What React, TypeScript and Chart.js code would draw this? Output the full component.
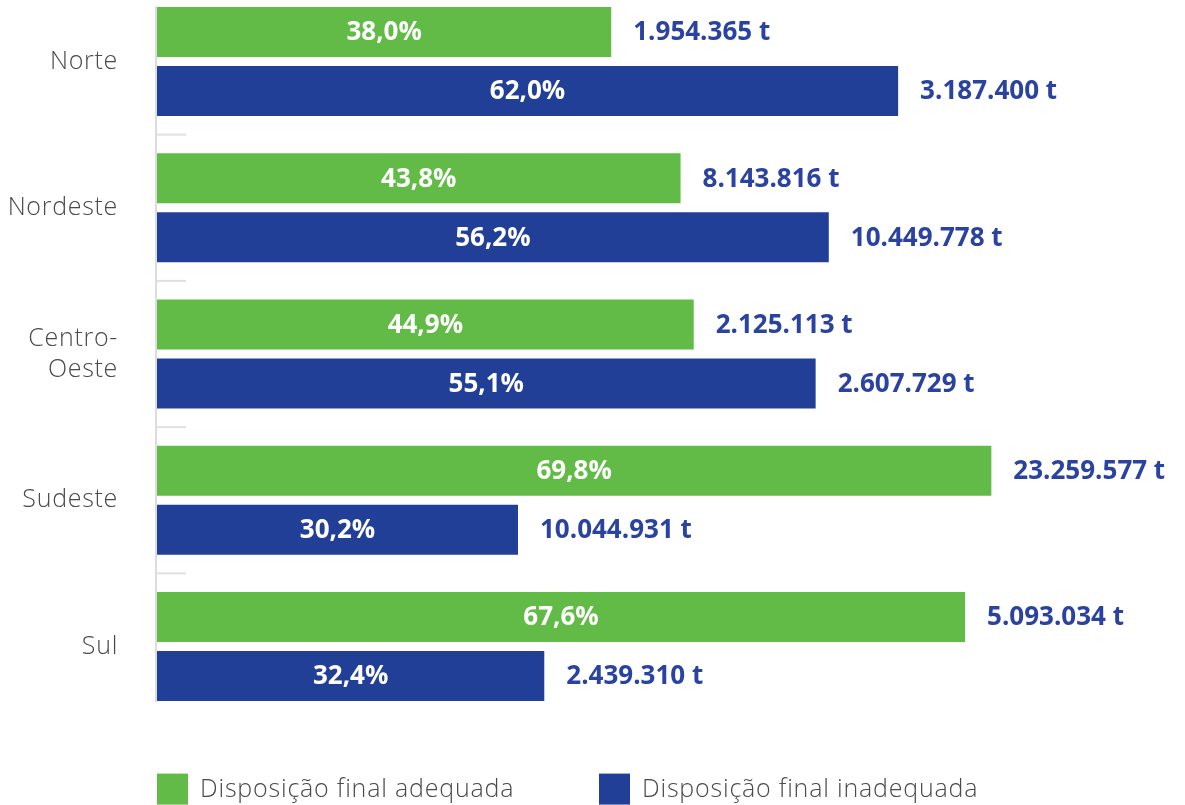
import React, { useEffect, useRef } from "react";
import { Chart, registerables } from "chart.js";

Chart.register(...registerables);

const regions = ["Norte", "Nordeste", ["Centro-", "Oeste"], "Sudeste", "Sul"];
const pctAdequada = [38.0, 43.8, 44.9, 69.8, 67.6];
const pctInadequada = [62.0, 56.2, 55.1, 30.2, 32.4];
const tonAdequada = [1954365, 8143816, 2125113, 23259577, 5093034];
const tonInadequada = [3187400, 10449778, 2607729, 10044931, 2439310];
const seriesNames = ["Disposição final adequada", "Disposição final inadequada"];
const tonnes = [tonAdequada, tonInadequada];

const GREEN = "#62bb46";
const BLUE = "#223f98";
const VALUE_BLUE = "#2a43a0";
const FONT = "'Open Sans', sans-serif";

const fmtPct = (v: number) => v.toFixed(1).replace(".", ",") + "%";
const fmtTon = (v: number) => String(v).replace(/\B(?=(\d{3})+(?!\d))/g, ".") + " t";

const decorPlugin = {
  id: "decor",
  beforeDraw(chart: any) {
    (chart.ctx as any).letterSpacing = "0.7px";
  },
  beforeDatasetsDraw(chart: any) {
    const ctx = chart.ctx;
    (ctx as any).letterSpacing = "0px";
    const area = chart.chartArea;
    const first = chart.getDatasetMeta(0).data[0] as any;
    const lastMeta = chart.getDatasetMeta(1).data;
    const last = lastMeta[lastMeta.length - 1] as any;
    const top = first.y - first.height / 2;
    const bottom = last.y + last.height / 2;
    ctx.save();
    ctx.strokeStyle = "#dcdcdc";
    ctx.lineWidth = 2;
    ctx.beginPath();
    ctx.moveTo(area.left - 1, top);
    ctx.lineTo(area.left - 1, bottom + 1);
    ctx.stroke();
    const yScale = chart.scales.y;
    ctx.strokeStyle = "#e0e0e0";
    for (let i = 0; i < regions.length - 1; i++) {
      const ym = (yScale.getPixelForValue(i) + yScale.getPixelForValue(i + 1)) / 2;
      ctx.beginPath();
      ctx.moveTo(area.left - 1, ym);
      ctx.lineTo(area.left + 29, ym);
      ctx.stroke();
    }
    ctx.restore();
  },
  afterDatasetsDraw(chart: any) {
    const ctx = chart.ctx;
    ctx.save();
    (ctx as any).letterSpacing = "0px";
    ctx.font = `bold 26px ${FONT}`;
    ctx.textBaseline = "middle";
    chart.data.datasets.forEach((ds: any, di: number) => {
      const meta = chart.getDatasetMeta(di);
      meta.data.forEach((bar: any, j: number) => {
        const v = ds.data[j];
        ctx.fillStyle = "#ffffff";
        ctx.textAlign = "center";
        ctx.fillText(fmtPct(v), (bar.base + bar.x) / 2, bar.y + 1);
        ctx.fillStyle = VALUE_BLUE;
        ctx.textAlign = "left";
        ctx.fillText(fmtTon(tonnes[di][j]), bar.x + 22, bar.y + 1);
      });
    });
    ctx.restore();
  },
  afterDraw(chart: any) {
    const ctx = chart.ctx;
    const area = chart.chartArea;
    const colors = [GREEN, BLUE];
    const boxTop = area.bottom + 54;
    const size = 31;
    ctx.save();
    (ctx as any).letterSpacing = "0.8px";
    ctx.font = `300 25px ${FONT}`;
    ctx.textBaseline = "middle";
    ctx.textAlign = "left";
    seriesNames.forEach((name, i) => {
      const x = area.left + i * 442;
      ctx.fillStyle = colors[i];
      ctx.fillRect(x, boxTop, size, size);
      ctx.fillStyle = "#4a4a4a";
      ctx.fillText(name, x + size + 12, boxTop + 16);
    });
    ctx.restore();
  },
};

export default function App() {
  const canvasRef = useRef<HTMLCanvasElement | null>(null);

  useEffect(() => {
    if (!canvasRef.current) return;
    Chart.defaults.font.family = FONT;
    const chart = new Chart(canvasRef.current, {
      type: "bar",
      data: {
        labels: regions as any,
        datasets: [
          {
            label: seriesNames[0],
            data: pctAdequada,
            backgroundColor: GREEN,
            categoryPercentage: 0.807,
            barPercentage: 0.847,
          },
          {
            label: seriesNames[1],
            data: pctInadequada,
            backgroundColor: BLUE,
            categoryPercentage: 0.807,
            barPercentage: 0.847,
          },
        ],
      },
      options: {
        indexAxis: "y",
        animation: false,
        responsive: true,
        maintainAspectRatio: false,
        layout: { padding: { top: 18.4, bottom: 85.4, left: 0, right: 0 } },
        plugins: {
          legend: { display: false },
          tooltip: { enabled: false },
        },
        scales: {
          x: { display: false, min: 0, max: 86 },
          y: {
            type: "category",
            offset: true,
            grid: { display: false, drawTicks: true, tickLength: 39 },
            border: { display: false },
            ticks: {
              padding: 0,
              color: "#4a4a4a",
              font: { family: FONT, size: 25, weight: "300" as any, lineHeight: 1.25 },
            },
            afterFit(scale: any) {
              scale.width = 157;
            },
          },
        },
      },
      plugins: [decorPlugin],
    });
    return () => chart.destroy();
  }, []);

  return (
    <div style={{ position: "absolute", left: 0, top: -30, width: 1185, height: 835 }}>
      <canvas ref={canvasRef} />
    </div>
  );
}
